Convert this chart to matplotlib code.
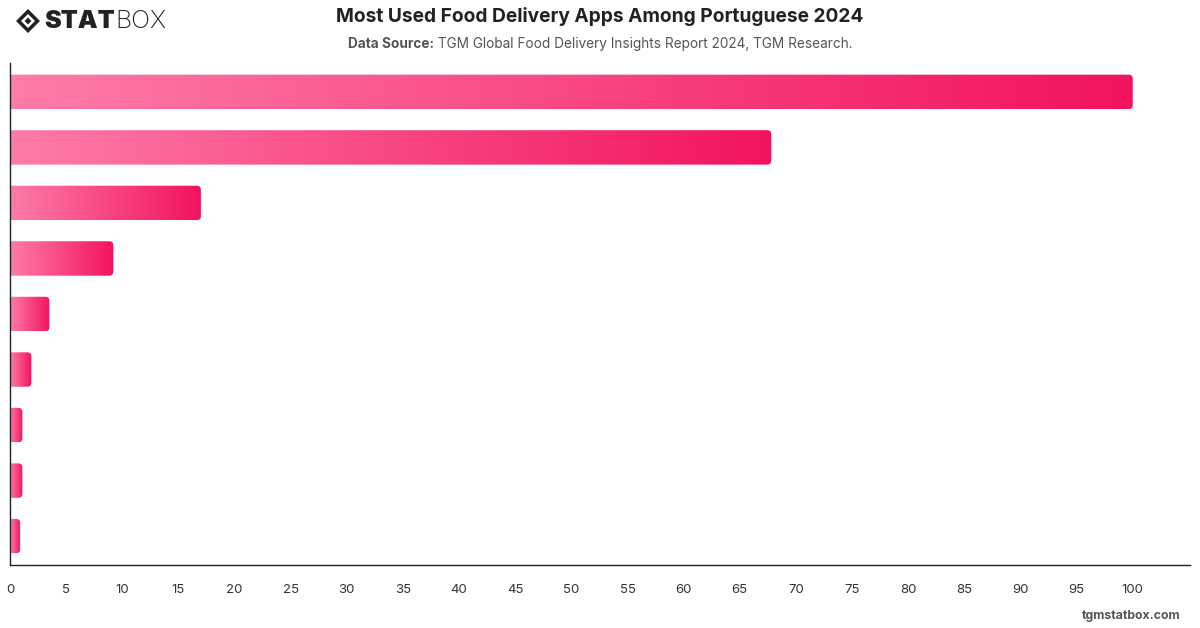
import matplotlib
matplotlib.use("Agg")
import matplotlib.pyplot as plt
import numpy as np
from matplotlib.patches import FancyBboxPatch, Polygon
from matplotlib.colors import LinearSegmentedColormap

# ---- data ----
categories = ["App 1", "App 2", "App 3", "App 4", "App 5", "App 6", "App 7", "App 8", "App 9"]
values = [100, 67.8, 17.0, 9.2, 3.5, 1.9, 1.1, 1.1, 0.9]
xticks = list(range(0, 101, 5))

title = "Most Used Food Delivery Apps Among Portuguese 2024"
source_bold = "Data Source:"
source_text = " TGM Global Food Delivery Insights Report 2024, TGM Research."

plt.rcParams['font.family'] = ['Inter', 'DejaVu Sans']

fig = plt.figure(figsize=(12, 6.28), dpi=100)
ax = fig.add_axes([10/1200, 1 - 565/628, 1180/1200, 502/628])

ypos = np.arange(len(categories))
bar_h = 0.62
bars = ax.barh(ypos, values, height=bar_h, color='none', edgecolor='none')

ax.set_xlim(0, 105.1)
ax.set_ylim(len(categories) - 0.48, -0.52)

cmap = LinearSegmentedColormap.from_list("pk", ["#fe7ca7", "#f2135f"])
grad = np.linspace(0, 1, 256).reshape(1, -1)

# pixel scale for rounding
px_x = 1180 / 105.1
px_y = 502 / (len(categories) + 0.04)
r_px = 4
rx = r_px / px_x
asp = (r_px / px_y) / rx

for b in bars:
    x0, y0 = b.get_x(), b.get_y()
    w, h = b.get_width(), b.get_height()
    # extend left edge beyond the axis so only the right corners look rounded
    patch = FancyBboxPatch((x0 - 2 * rx, y0), w + 2 * rx, h,
                           boxstyle=f"round,pad=0,rounding_size={rx}",
                           mutation_aspect=asp, facecolor='none', edgecolor='none',
                           transform=ax.transData)
    ax.add_patch(patch)
    im = ax.imshow(grad, cmap=cmap, aspect='auto', extent=(x0, x0 + w, y0 + h, y0),
                   interpolation='bilinear', zorder=2)
    im.set_clip_path(patch)

ax.set_xlim(0, 105.1)
ax.set_ylim(len(categories) - 0.48, -0.52)

ax.set_xticks(xticks)
ax.set_xticklabels([str(t) for t in xticks], fontsize=9.5, color='#333333')
ax.tick_params(axis='x', length=0, pad=14)
ax.set_yticks([])
for s in ['top', 'right']:
    ax.spines[s].set_visible(False)
for s in ['left', 'bottom']:
    ax.spines[s].set_color('#222222')
    ax.spines[s].set_linewidth(1.0)

# title and subtitle
fig.text(0.5, 1 - 17/628, title, ha='center', va='center', fontsize=13.8,
         fontweight='bold', color='#222222')
t1 = fig.text(0, 0, source_bold, fontsize=9.8, fontweight='bold', color='#555555')
t2 = fig.text(0, 0, source_text, fontsize=9.8, color='#555555')
fig.canvas.draw()
r = fig.canvas.get_renderer()
w1 = t1.get_window_extent(r).width
w2 = t2.get_window_extent(r).width
start = (1200 - (w1 + w2)) / 2
ysub = 1 - 44/628
t1.set_position((start / 1200, ysub)); t1.set_va('center')
t2.set_position(((start + w1) / 1200, ysub)); t2.set_va('center')

# logo
ly = 1 - 21/628
dia = Polygon([[16/1200, ly], [28/1200, 1 - 9/628], [40/1200, ly], [28/1200, 1 - 33/628]],
              closed=True, facecolor='#222222', edgecolor='none', transform=fig.transFigure)
fig.patches.append(dia)
dia2 = Polygon([[21/1200, ly], [28/1200, 1 - 14/628], [35/1200, ly], [28/1200, 1 - 28/628]],
               closed=True, facecolor='white', edgecolor='none', transform=fig.transFigure)
fig.patches.append(dia2)
dia3 = Polygon([[24.5/1200, ly], [28/1200, 1 - 17.5/628], [31.5/1200, ly], [28/1200, 1 - 24.5/628]],
               closed=True, facecolor='#222222', edgecolor='none', transform=fig.transFigure)
fig.patches.append(dia3)
s1 = fig.text(44/1200, ly, "STAT", fontsize=18, fontweight='black', color='#222222', va='center')
fig.canvas.draw()
ws = s1.get_window_extent(r).width
fig.text((44 + ws + 1)/1200, ly, "BOX", fontsize=18, fontweight='light', color='#222222', va='center')

fig.text(1180/1200, 1 - 616/628, "tgmstatbox.com", ha='right', va='center', fontsize=8.8,
         fontweight='bold', color='#555555')

fig.savefig("out.png", dpi=100)
